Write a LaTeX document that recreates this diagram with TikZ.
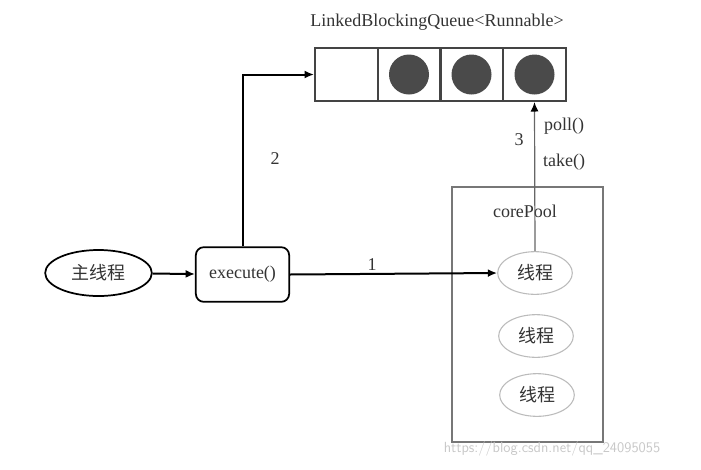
\documentclass[tikz,border=0pt]{standalone}
\usepackage{fontspec}
\setmainfont{Liberation Serif}
\newfontfamily\cjk{Noto Sans CJK SC}
\usetikzlibrary{arrows.meta,positioning}
\definecolor{boxgray}{HTML}{444444}
\definecolor{ballgray}{HTML}{4A4A4A}
\definecolor{poolgray}{HTML}{777777}
\definecolor{thrgray}{HTML}{BBBBBB}
\definecolor{wmgray}{HTML}{C8C8C8}
\definecolor{txtgray}{HTML}{333333}
\tikzset{
  txt/.style={font=\fontsize{13.5}{15}\selectfont, text=txtgray, inner sep=0pt},
  cell/.style={draw=boxgray, line width=1.5pt, minimum width=47.25pt, minimum height=40pt, inner sep=0pt},
  ball/.style={circle, fill=ballgray, minimum size=30pt, inner sep=0pt},
  mainell/.style={ellipse, draw=black, line width=1.3pt, minimum width=80pt, minimum height=34.5pt, inner sep=0pt, font=\cjk\fontsize{13.5}{15}\selectfont, text=txtgray},
  execbox/.style={draw=black, line width=1.3pt, rounded corners=6pt, minimum width=70pt, minimum height=41pt, inner sep=0pt, font=\fontsize{13.5}{15}\selectfont, text=txtgray},
  thr/.style={ellipse, draw=thrgray, line width=0.8pt, minimum width=56pt, minimum height=32pt, inner sep=0pt, font=\cjk\fontsize{13.5}{15}\selectfont, text=txtgray},
  pool/.style={draw=poolgray, line width=1.5pt, minimum width=113pt, minimum height=191pt, inner sep=0pt},
  bold arrow/.style={draw=black, line width=1.5pt, -{Latex[length=7pt,width=6pt]}},
  thin arrow/.style={draw=black!60, line width=0.9pt, -{Latex[length=7pt,width=6pt,color=black]}},
}
\usetikzlibrary{shapes.geometric}
\begin{document}
\begin{tikzpicture}[x=0.75pt,y=-0.75pt]
\useasboundingbox (0,0) rectangle (701,469);
% queue
\node[txt] (title) at (437,22) {LinkedBlockingQueue<Runnable>};
\node[cell] (c1) at (346.5,74.5) {};
\node[cell] (c2) at (409,74.5) {};
\node[cell] (c3) at (471.5,74.5) {};
\node[cell] (c4) at (534.5,74.5) {};
\node[ball] (b2) at (c2) {};
\node[ball] (b3) at (c3) {};
\node[ball] (b4) at (c4) {};
% main thread and execute
\node[mainell] (main) at (98.5,273) {主线程};
\node[execbox] (exec) at (242.5,274.5) {execute()};
% core pool
\node[pool] (pool) at (527.5,314.5) {};
\node[txt] (pooltitle) at (525,211) {corePool};
\node[thr] (t1) at (535,273) {线程};
\node[thr] (t2) at (536,336) {线程};
\node[thr] (t3) at (537,395) {线程};
% connectors
\draw[bold arrow] (main) -- (exec);
\draw[bold arrow] (exec.north) |- (c1.west);
\draw[bold arrow] (exec.east) -- (t1.west);
\draw[thin arrow] (t1.north) -- (c4.south);
% labels
\node[txt] (l1) at (372,265) {1};
\node[txt] (l2) at (275,159) {2};
\node[txt] (l3) at (519,140) {3};
\node[txt] (poll) at (564,126) {poll()};
\node[txt] (take) at (564,162) {take()};
% watermark
\node[font=\sffamily\fontsize{11}{12}\selectfont, text=wmgray, inner sep=0pt] (wm) at (552,449) {https://blog.csdn.net/qq\_24095055};
\end{tikzpicture}
\end{document}
